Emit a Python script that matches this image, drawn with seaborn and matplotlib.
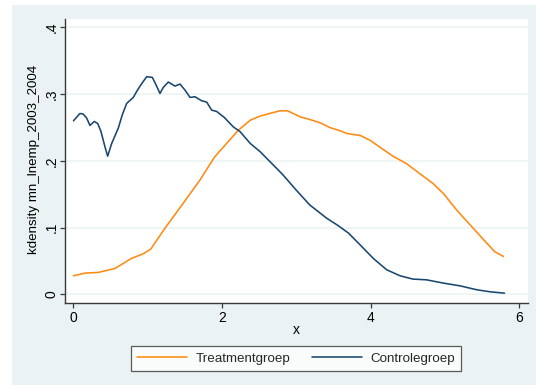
import numpy as np
import pandas as pd
import matplotlib
matplotlib.use("Agg")
import matplotlib.pyplot as plt
from matplotlib.patches import Rectangle
import seaborn as sns

# Kernel density estimates of mn_lnemp_2003_2004 per group
treat_x = [0.0, 0.155, 0.334, 0.56, 0.78, 0.94, 1.04, 1.23, 1.46, 1.70, 1.90, 2.06,
           2.22, 2.38, 2.51, 2.64, 2.78, 2.88, 3.05, 3.18, 3.32, 3.45, 3.59, 3.68,
           3.86, 3.99, 4.13, 4.30, 4.48, 4.66, 4.84, 4.98, 5.16, 5.34, 5.52, 5.67, 5.785]
treat_y = [0.028, 0.032, 0.033, 0.039, 0.054, 0.061, 0.068, 0.099, 0.134, 0.171, 0.206, 0.226,
           0.246, 0.261, 0.267, 0.271, 0.275, 0.275, 0.266, 0.262, 0.257, 0.250, 0.245, 0.241,
           0.238, 0.231, 0.220, 0.207, 0.196, 0.181, 0.166, 0.151, 0.126, 0.104, 0.082, 0.064, 0.057]

control_x = [0.0, 0.087, 0.132, 0.178, 0.222, 0.280, 0.326, 0.370, 0.424, 0.460, 0.514, 0.603,
             0.657, 0.716, 0.805, 0.851, 0.908, 0.985, 1.061, 1.106, 1.164, 1.209, 1.276, 1.366,
             1.433, 1.501, 1.568, 1.635, 1.725, 1.793, 1.860, 1.927, 2.03, 2.15, 2.24, 2.38,
             2.51, 2.67, 2.82, 3.00, 3.18, 3.41, 3.55, 3.70, 3.86, 4.035, 4.215, 4.395,
             4.57, 4.75, 4.98, 5.20, 5.43, 5.61, 5.80]
control_y = [0.260, 0.271, 0.270, 0.264, 0.253, 0.259, 0.256, 0.244, 0.221, 0.207, 0.226, 0.249,
             0.269, 0.286, 0.295, 0.304, 0.314, 0.326, 0.325, 0.315, 0.301, 0.310, 0.318, 0.312,
             0.315, 0.306, 0.295, 0.296, 0.290, 0.288, 0.276, 0.274, 0.265, 0.251, 0.244, 0.226,
             0.214, 0.196, 0.179, 0.156, 0.134, 0.114, 0.104, 0.092, 0.074, 0.054, 0.037, 0.028,
             0.023, 0.022, 0.017, 0.013, 0.007, 0.004, 0.002]

groups = ["Treatmentgroep", "Controlegroep"]
colors = ["#FF8A12", "#1A476F"]
x_ticks = [0, 2, 4, 6]
y_ticks = [0, 0.1, 0.2, 0.3, 0.4]
y_tick_labels = ["0", ".1", ".2", ".3", ".4"]

df = pd.concat([
    pd.DataFrame({"x": treat_x, "density": treat_y, "groep": groups[0]}),
    pd.DataFrame({"x": control_x, "density": control_y, "groep": groups[1]}),
], ignore_index=True)

sns.set_theme(style="white")
plt.rcParams["font.family"] = ["Liberation Sans", "DejaVu Sans"]

W, H = 536, 385
fig = plt.figure(figsize=(W / 100, H / 100), dpi=100)
fig.patch.set_facecolor("white")
# light bluish-gray graph region
fig.patches.append(Rectangle((12 / W, 0), 1 - 12 / W, 1 - 5 / H,
                             transform=fig.transFigure, facecolor="#EAF2F3",
                             edgecolor="none", zorder=-10))

left, right, top, bottom = 65, 527.7, 19, 302.5
ax = fig.add_axes([left / W, 1 - bottom / H, (right - left) / W, (bottom - top) / H])
ax.set_facecolor("white")

sns.lineplot(data=df, x="x", y="density", hue="groep", hue_order=groups,
             palette=colors, sort=False, estimator=None, linewidth=1.15, ax=ax)

ax.set_xlim(-0.114, 6.113)
ax.set_ylim(-0.012, 0.4124)
ax.set_xticks(x_ticks)
ax.set_yticks(y_ticks)
ax.set_yticklabels(y_tick_labels, rotation=90, va="center")
ax.grid(axis="y", color="#EAF2F3", linewidth=1.1)
ax.grid(axis="x", visible=False)

for s in ["top", "right"]:
    ax.spines[s].set_visible(False)
for s in ["left", "bottom"]:
    ax.spines[s].set_color("#3a3a3a")
    ax.spines[s].set_linewidth(1.0)

ax.tick_params(axis="both", direction="out", length=3.6, width=0.9, color="#3a3a3a",
               labelsize=10, labelcolor="black")
ax.tick_params(axis="x", pad=2.5, bottom=True)
ax.tick_params(axis="y", pad=1.0, left=True)

ax.set_xlabel("x", fontsize=10, color="black")
ax.xaxis.label.set_verticalalignment("center")
ax.xaxis.set_label_coords(0.5, -0.098)
ax.set_ylabel("kdensity mn_lnemp_2003_2004", fontsize=9.6, color="black")
ax.yaxis.label.set_verticalalignment("center")
ax.yaxis.set_label_coords(-0.066, 0.504)

handles, labels = ax.get_legend_handles_labels()
ax.legend_.remove()
leg = fig.legend(handles, labels, loc="center", bbox_to_anchor=(296.3 / W, 1 - 358.5 / H),
                 ncol=2, frameon=True, fancybox=False, fontsize=9.6,
                 handlelength=3.75, handletextpad=0.62, columnspacing=1.63,
                 borderpad=0.45, borderaxespad=0)
leg.get_frame().set_edgecolor("#333333")
leg.get_frame().set_linewidth(0.9)
leg.get_frame().set_facecolor("white")
for h in leg.get_lines():
    h.set_linewidth(1.15)

fig.savefig("out.png", dpi=100)
